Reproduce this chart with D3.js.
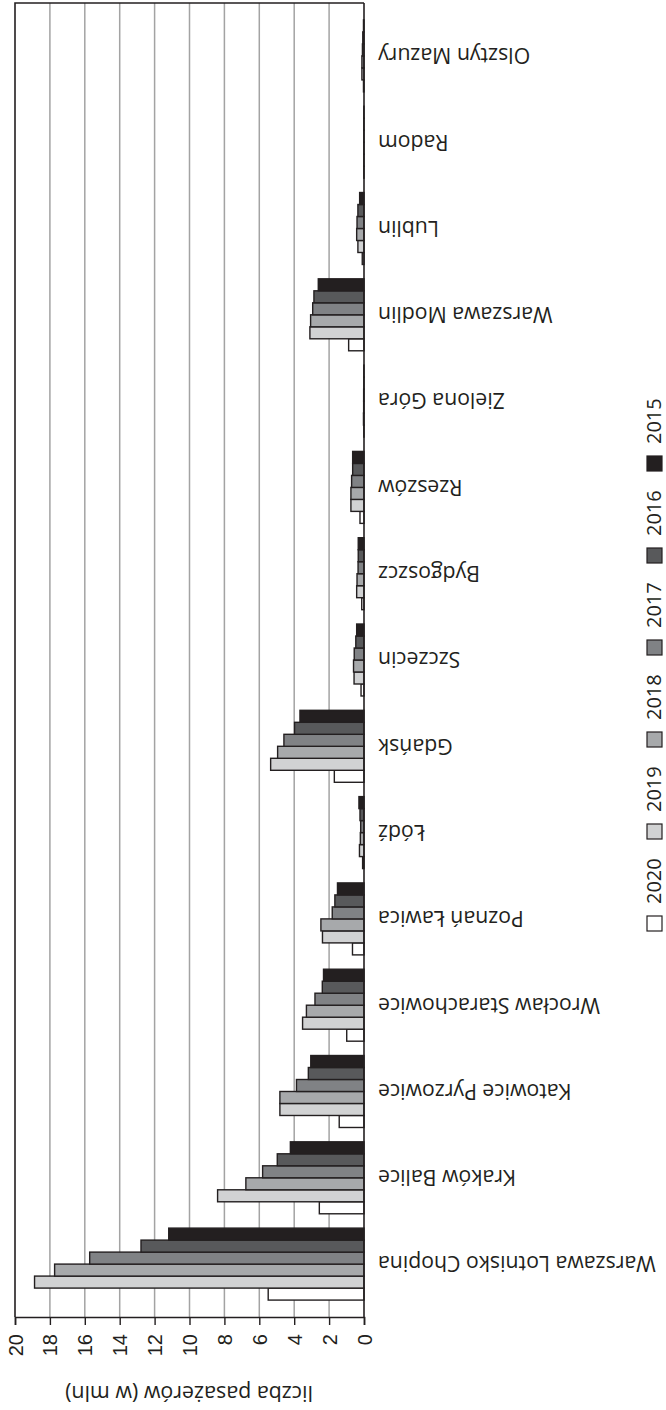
<!DOCTYPE html>
<html>
<head>
<meta charset="utf-8">
<script src="https://cdn.jsdelivr.net/npm/d3@7"></script>
<style>
  body { margin: 0; background: #fff; }
  svg { display: block; font-family: "Open Sans", sans-serif; }
</style>
</head>
<body>
<svg id="chart" width="666" height="1410"></svg>
<script>
// airports, in original order (first one drawn at the bottom)
const airports = ["Warszawa Lotnisko Chopina", "Kraków Balice", "Katowice Pyrzowice",
  "Wrocław Starachowice", "Poznań Ławica", "Łódź", "Gdańsk", "Szczecin", "Bydgoszcz",
  "Rzeszów", "Zielona Góra", "Warszawa Modlin", "Lublin", "Radom", "Olsztyn Mazury"];
const years = ["2020", "2019", "2018", "2017", "2016", "2015"];

// passengers in millions, one array per year, same order as airports
const v2020 = [5.49, 2.56, 1.42, 0.99, 0.66, 0.08, 1.70, 0.17, 0.13, 0.23, 0.01, 0.88, 0.10, 0.01, 0.03];
const v2019 = [18.88, 8.39, 4.82, 3.52, 2.38, 0.26, 5.35, 0.57, 0.42, 0.75, 0.03, 3.10, 0.35, 0.01, 0.12];
const v2018 = [17.73, 6.77, 4.82, 3.30, 2.47, 0.21, 4.95, 0.60, 0.40, 0.75, 0.02, 3.06, 0.42, 0.01, 0.12];
const v2017 = [15.72, 5.81, 3.87, 2.81, 1.82, 0.19, 4.59, 0.56, 0.34, 0.71, 0.02, 2.94, 0.40, 0.01, 0.09];
const v2016 = [12.78, 4.97, 3.19, 2.39, 1.67, 0.23, 3.98, 0.47, 0.33, 0.65, 0.01, 2.87, 0.35, 0.01, 0.07];
const v2015 = [11.19, 4.22, 3.05, 2.32, 1.52, 0.29, 3.67, 0.42, 0.33, 0.65, 0.01, 2.62, 0.25, 0.01, 0.03];
const valueTicks = [0, 2, 4, 6, 8, 10, 12, 14, 16, 18, 20];

const series = { "2020": v2020, "2019": v2019, "2018": v2018, "2017": v2017, "2016": v2016, "2015": v2015 };
const fills = { "2020": "#ffffff", "2019": "#d1d2d3", "2018": "#a7a9ab", "2017": "#808285", "2016": "#58595b", "2015": "#231f20" };
const ink = "#231f20";

const svg = d3.select("#chart");
const plotL = 15, plotR = 364, plotT = 3, plotB = 1317;

// pick a font size so that a sample string has the wanted width
function fitSize(sample, width) {
  const t = svg.append("text").style("font-size", "20px").text(sample);
  const w = t.node().getComputedTextLength();
  t.remove();
  return 20 * width / w;
}
const labelSize = fitSize("Warszawa Lotnisko Chopina", 278);
const titleSize = fitSize("liczba pasażerów (w mln)", 248);

const x = d3.scaleLinear().domain([0, 20]).range([plotR, plotL]);
const y = d3.scaleBand().domain(airports).range([plotB, plotT])
  .paddingInner(0.166).paddingOuter(0.196);
const yy = d3.scaleBand().domain(years).range([y.bandwidth(), 0]);

// gridlines
svg.append("g").selectAll("line")
  .data(valueTicks.filter(d => d > 0 && d < 20))
  .enter().append("line")
  .attr("x1", d => x(d)).attr("x2", d => x(d))
  .attr("y1", plotT).attr("y2", plotB)
  .attr("stroke", "#a3a3a3").attr("stroke-width", 1.5);

// frame: top and far (20) side
svg.append("path")
  .attr("d", `M${x(0)},${plotT}H${x(20)}V${plotB}`)
  .attr("fill", "none").attr("stroke", ink).attr("stroke-width", 1.6);

// bars
const rows = [];
airports.forEach((a, i) => years.forEach(yr => rows.push({ airport: a, year: yr, value: series[yr][i] })));

svg.append("g").selectAll("rect")
  .data(rows)
  .enter().append("rect")
  .attr("x", d => x(d.value))
  .attr("y", d => y(d.airport) + yy(d.year))
  .attr("width", d => x(0) - x(d.value))
  .attr("height", yy.bandwidth())
  .attr("fill", d => fills[d.year])
  .attr("stroke", ink).attr("stroke-width", 1.4);

// value axis
const axis = svg.append("g")
  .attr("transform", `translate(0,${plotB})`)
  .call(d3.axisBottom(x).tickValues(valueTicks).tickSize(8).tickPadding(0));
axis.select(".domain").attr("stroke", ink).attr("stroke-width", 1.6);
axis.selectAll(".tick line").attr("stroke", ink).attr("stroke-width", 1.4);
axis.selectAll(".tick text")
  .attr("fill", ink)
  .style("font-size", "20px")
  .attr("text-anchor", "end")
  .attr("y", 0).attr("dy", "0.35em")
  .attr("transform", "translate(0,17) rotate(-90)");

// zero line
svg.append("line")
  .attr("x1", x(0)).attr("x2", x(0)).attr("y1", plotT).attr("y2", plotB)
  .attr("stroke", ink).attr("stroke-width", 1.6);

// airport labels (upside down)
svg.append("g").selectAll("text")
  .data(airports)
  .enter().append("text")
  .attr("transform", d => `translate(378,${y(d) + y.bandwidth() / 2}) rotate(180)`)
  .attr("text-anchor", "end")
  .attr("dy", "0.36em")
  .attr("fill", ink)
  .style("font-size", labelSize + "px")
  .text(d => d);

// axis title
svg.append("text")
  .attr("transform", "translate(189,1394) rotate(180)")
  .attr("text-anchor", "middle")
  .attr("dy", "0.35em")
  .attr("fill", ink)
  .style("font-size", titleSize + "px")
  .text("liczba pasażerów (w mln)");

// legend
const legend = svg.append("g").selectAll("g")
  .data(years)
  .enter().append("g")
  .attr("transform", (d, i) => `translate(662,${931 - i * 92})`);
legend.append("rect")
  .attr("x", -15).attr("y", -15).attr("width", 15).attr("height", 15)
  .attr("fill", d => fills[d]).attr("stroke", ink).attr("stroke-width", 1.2);
legend.append("text")
  .attr("transform", "translate(-1,-27) rotate(-90)")
  .attr("fill", ink)
  .style("font-size", "20px")
  .text(d => d);
</script>
</body>
</html>
